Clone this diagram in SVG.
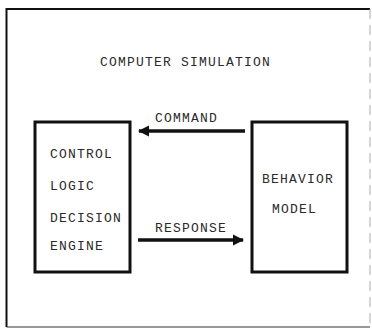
<svg xmlns="http://www.w3.org/2000/svg" width="372" height="329" viewBox="0 0 372 329">
<style>
.t{font-family:"Liberation Mono","DejaVu Sans Mono",monospace;font-size:13px;fill:#2a2a2a;letter-spacing:1.2px}
.box{fill:none;stroke:#111;stroke-width:3}
.ln{stroke:#111;stroke-width:3.5;fill:none}
</style>
<defs>
<marker id="ah" viewBox="0 0 10 10" refX="9" refY="5" markerWidth="3.2" markerHeight="3.2" orient="auto" markerUnits="strokeWidth">
<path d="M0,0 L10,5 L0,10 z" fill="#111"/>
</marker>
</defs>
<rect width="372" height="329" fill="#fff"/>
<g id="frame">
<path d="M6.5,327 L6.5,9 L370,9" fill="none" stroke="#111" stroke-width="2"/>
<path d="M6.5,327 L370,327" fill="none" stroke="#333" stroke-width="1.2"/>
<path d="M370,9 L370,327" fill="none" stroke="#aaa" stroke-width="1" stroke-dasharray="10 6"/>
</g>
<text class="t" x="100" y="66">COMPUTER SIMULATION</text>
<g id="control">
<rect class="box" x="35" y="122" width="95" height="150"/>
<text class="t" x="50" y="158">CONTROL</text>
<text class="t" x="50" y="190">LOGIC</text>
<text class="t" x="50" y="222">DECISION</text>
<text class="t" x="50" y="250">ENGINE</text>
</g>
<g id="behavior">
<rect class="box" x="252" y="122" width="95" height="150"/>
<text class="t" x="262" y="183">BEHAVIOR</text>
<text class="t" x="272" y="213">MODEL</text>
</g>
<g id="connectors">
<line class="ln" x1="245" y1="131" x2="139" y2="131" marker-end="url(#ah)"/>
<text class="t" x="155" y="122">COMMAND</text>
<line class="ln" x1="138" y1="240" x2="243" y2="240" marker-end="url(#ah)"/>
<text class="t" x="155" y="232">RESPONSE</text>
</g>
</svg>
